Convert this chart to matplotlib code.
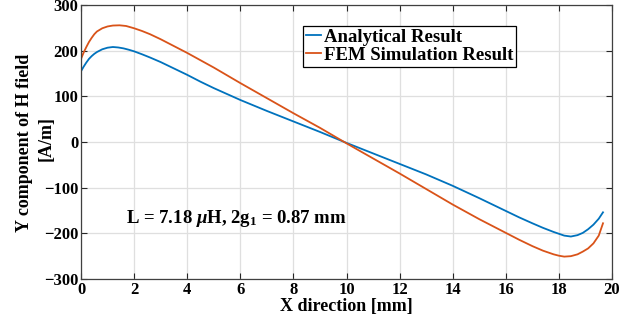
import matplotlib
matplotlib.use("Agg")
import matplotlib.pyplot as plt

plt.rcParams['font.family'] = ['Liberation Serif', 'DejaVu Serif']
plt.rcParams['font.weight'] = 'bold'
plt.rcParams['mathtext.fontset'] = 'custom'
plt.rcParams['mathtext.rm'] = 'Liberation Serif:bold'
plt.rcParams['mathtext.it'] = 'Liberation Serif:italic:bold'
plt.rcParams['mathtext.bf'] = 'Liberation Serif:bold'

x_analytical = [0, 0.1, 0.2, 0.3, 0.4, 0.5, 0.6, 0.8, 1.0, 1.2, 1.4, 1.6, 1.8, 2.0,
                2.3, 2.6, 3.0, 3.5, 4.0, 4.5, 5, 5.5, 6, 7, 8, 9, 10, 11, 12, 13, 14,
                15, 15.5, 16, 16.5, 17, 17.4, 17.8, 18.2, 18.45, 18.7, 18.9, 19.1,
                19.3, 19.5, 19.66]
analytical = [155, 165, 174, 182, 188, 193, 197, 203, 206.5, 208, 207, 205, 202,
              198.5, 192, 185, 175, 161, 147, 132, 118, 105, 92, 68, 45, 22, -2,
              -25, -48, -71, -96, -123, -137, -151, -165, -178, -188, -197, -205,
              -207, -204, -199, -191, -181, -168, -154]

x_fem = [0, 0.1, 0.2, 0.3, 0.4, 0.5, 0.6, 0.8, 1.0, 1.2, 1.45, 1.7, 2.0, 2.3, 2.6,
         3.0, 3.5, 4.0, 4.5, 5, 5.5, 6, 7, 8, 9, 10, 11, 12, 13, 14, 15, 15.5, 16,
         16.5, 17, 17.4, 17.8, 18.0, 18.2, 18.45, 18.7, 18.9, 19.1, 19.3, 19.5,
         19.66]
fem = [182, 196, 208, 219, 228, 236, 242, 249, 253, 255, 255.5, 254, 249, 243, 236,
       225, 210, 195, 179, 163, 146, 129, 96, 63, 31, -3, -36, -69, -103, -137,
       -169, -184, -199, -214, -228, -238, -246, -249, -251, -250, -246, -240,
       -233, -222, -205, -178]

labels = ["Analytical Result", "FEM Simulation Result"]
xticks = list(range(0, 21, 2))
yticks = list(range(-300, 301, 100))
ylabel_lines = ["Y component of H field", "[A/m]"]
xlabel = "X direction [mm]"
note = r"L = 7.18 $\mu$H, 2g$_1$ = 0.87 mm"

fig = plt.figure(figsize=(6.41, 3.28), dpi=100)
ax = fig.add_axes([0.1264, 0.1494, 0.9548 - 0.1264, 0.9848 - 0.1494])

ax.plot(x_analytical, analytical, color='#0072BD', lw=1.3, label=labels[0])
ax.plot(x_fem, fem, color='#D95319', lw=1.3, label=labels[1])

ax.set_xlim(0, 20)
ax.set_ylim(-300, 300)
ax.set_xticks(xticks)
ax.set_yticks(yticks)
ax.grid(True, color='#DFDFDF', lw=0.9)
ax.set_axisbelow(True)
ax.tick_params(direction='in', top=True, right=True, labelsize=12, length=4,
               color='#262626', pad=2)
for lab in ax.get_xticklabels() + ax.get_yticklabels():
    lab.set_fontweight('bold')
for s in ax.spines.values():
    s.set_color('#404040')
    s.set_linewidth(0.9)

ax.set_xlabel(xlabel, fontsize=13, fontweight='bold', labelpad=0)
ax.text(-0.1066, 0.496, ylabel_lines[0], transform=ax.transAxes, rotation=90,
        ha='center', va='center', fontsize=13, fontweight='bold')
ax.text(-0.066, 0.512, ylabel_lines[1], transform=ax.transAxes, rotation=90,
        ha='center', va='center', fontsize=13, fontweight='bold')

ax.text(1.7, -178, note, fontsize=13.5, fontweight='bold', va='baseline', ha='left')

leg = ax.legend(loc='upper left', bbox_to_anchor=(303 / 641, 1 - 26 / 328),
                bbox_transform=fig.transFigure, borderaxespad=0,
                prop={'size': 13.5, 'weight': 'bold'}, handlelength=0.8,
                handletextpad=0.15, labelspacing=0.05, borderpad=0.15,
                fancybox=False, framealpha=1)
leg.get_frame().set_edgecolor('black')
leg.get_frame().set_linewidth(0.9)

fig.savefig("out.png", dpi=100)
